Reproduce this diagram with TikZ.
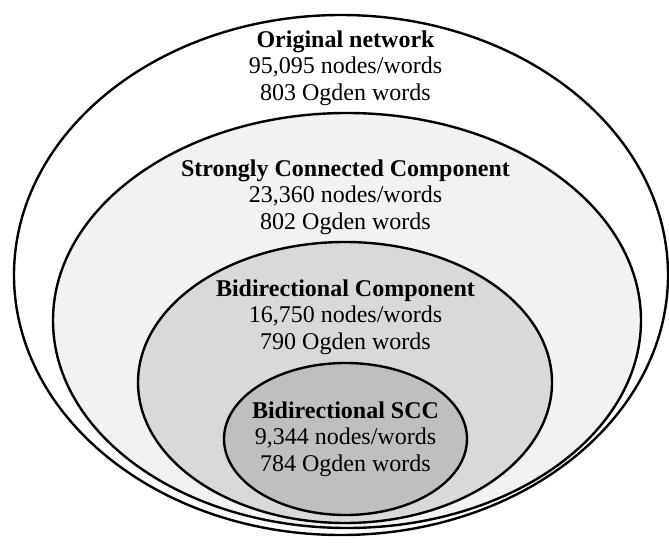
\documentclass[tikz,border=0pt]{standalone}
\usepackage{fontspec}
\setmainfont{Liberation Serif}
\usetikzlibrary{shapes.geometric,positioning}
\definecolor{sccgray}{HTML}{F2F2F2}
\definecolor{bidigray}{HTML}{D9D9D9}
\definecolor{bsccgray}{HTML}{BFBFBF}
\tikzset{
  comp/.style={ellipse, draw, line width=2.4pt, inner sep=0pt, outer sep=0pt},
  txt/.style={align=center, inner sep=0pt, font=\fontsize{24}{26.5}\selectfont}
}
\begin{document}
\begin{tikzpicture}[x=1pt,y=1pt]
   \useasboundingbox (0,0) rectangle (669,542);
   \node[comp, fill=white, minimum width=654, minimum height=520] (orig) at (341,267) {};
   \node[comp, fill=sccgray, minimum width=588, minimum height=415] (scc) at (347,221.5) {};
   \node[comp, fill=bidigray, minimum width=414, minimum height=281] (bidi) at (345,159.5) {};
   \node[comp, fill=bsccgray, minimum width=243, minimum height=152] (bscc) at (345.5,103) {};
   % labels
   \node[txt] (origtxt) at (345.5,474) {\textbf{Original network}\\95,095 nodes/words\\803 Ogden words};
   \node[txt] (scctxt) at (345.5,345) {\textbf{Strongly Connected Component}\\23,360 nodes/words\\802 Ogden words};
   \node[txt] (biditxt) at (345.5,225) {\textbf{Bidirectional Component}\\16,750 nodes/words\\790 Ogden words};
   \node[txt] (bscctxt) at (345.5,103) {\textbf{Bidirectional SCC}\\9,344 nodes/words\\784 Ogden words};
\end{tikzpicture}
\end{document}
